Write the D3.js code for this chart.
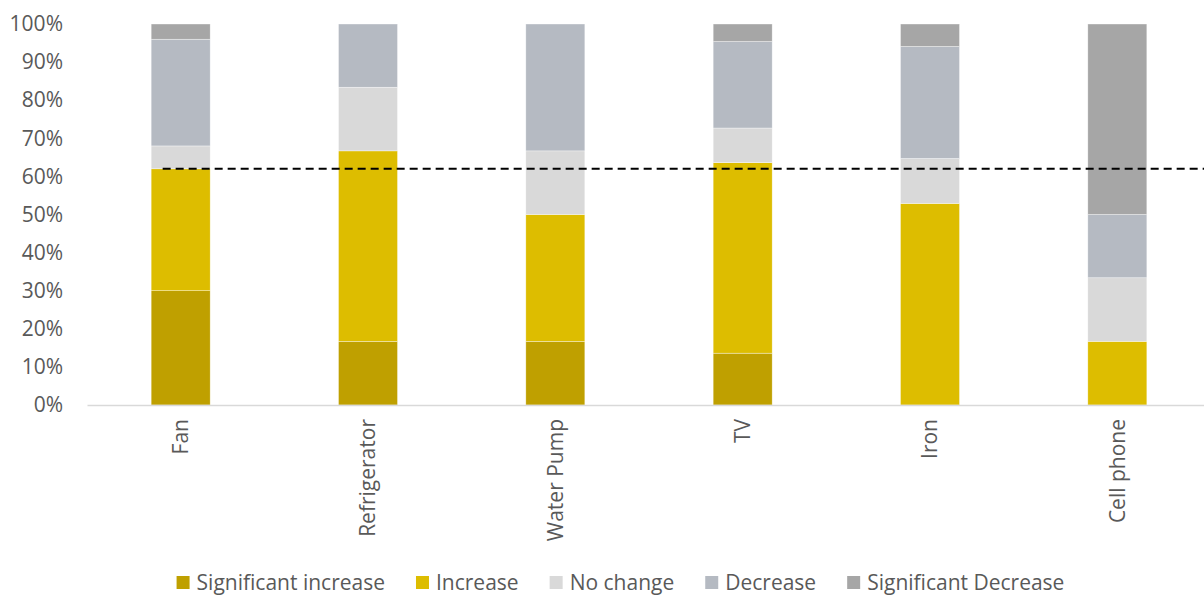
<!DOCTYPE html>
<html>
<head>
<meta charset="utf-8">
<script src="https://cdn.jsdelivr.net/npm/d3@7"></script>
<style>
  html, body { margin: 0; padding: 0; background: #fff; }
  svg { display: block; font-family: "Open Sans", "Noto Sans", sans-serif; }
</style>
</head>
<body>
<svg id="chart" width="1204" height="596"></svg>
<script>
// Appliance usage change, share of respondents (%)
const categories = ["Fan", "Refrigerator", "Water Pump", "TV", "Iron", "Cell phone"];
const seriesNames = ["Significant increase", "Increase", "No change", "Decrease", "Significant Decrease"];
const significantIncrease = [30, 16.7, 16.7, 13.6, 0, 0];
const increase            = [32, 50, 33.3, 50, 52.9, 16.7];
const noChange            = [6, 16.7, 16.7, 9.1, 11.8, 16.7];
const decrease            = [28, 16.6, 33.3, 22.7, 29.4, 16.6];
const significantDecrease = [4, 0, 0, 4.6, 5.9, 50];
const referenceLevel = 62;
const yTicks = [0, 10, 20, 30, 40, 50, 60, 70, 80, 90, 100];
const colors = ["#BFA000", "#DDBD00", "#D9D9D9", "#B5BAC2", "#A6A6A6"];

const seriesValues = [significantIncrease, increase, noChange, decrease, significantDecrease];
const rows = categories.map((c, i) => {
  const r = { category: c };
  seriesNames.forEach((s, k) => { r[s] = seriesValues[k][i]; });
  return r;
});
const stacked = d3.stack().keys(seriesNames)(rows);

const svg = d3.select("#chart");
const margin = { left: 87, right: -7, top: 24, bottom: 191 };
const W = 1204, H = 596;
const fontSize = "21px";
const x = d3.scaleBand().domain(categories)
  .range([margin.left, W - margin.right]).paddingInner(0.685).paddingOuter(0.3425);
const y = d3.scaleLinear().domain([0, 100]).range([H - margin.bottom, margin.top]);

// stacked bars
svg.append("g").selectAll("g").data(stacked).join("g")
  .attr("fill", (d, i) => colors[i])
  .selectAll("rect").data(d => d).join("rect")
  .attr("x", d => x(d.data.category))
  .attr("width", x.bandwidth())
  .attr("y", d => y(d[1]))
  .attr("height", d => y(d[0]) - y(d[1]))
  .attr("stroke", "#ffffff").attr("stroke-width", 0.6).attr("stroke-opacity", 0.6);

// y axis labels
const yAxis = svg.append("g")
  .attr("transform", `translate(${margin.left - 24},0)`)
  .call(d3.axisLeft(y).tickValues(yTicks).tickFormat(d => d + "%").tickSize(0).tickPadding(0));
yAxis.select(".domain").remove();
yAxis.selectAll("text").attr("fill", "#595959").style("font-size", fontSize)
  .style("font-family", "'Open Sans', sans-serif");

// category axis
const xAxis = svg.append("g")
  .attr("transform", `translate(0,${y(0)})`)
  .call(d3.axisBottom(x).tickSize(0).tickPadding(0));
xAxis.select(".domain").attr("stroke", "#D9D9D9").attr("stroke-width", 1.5);
xAxis.selectAll("text")
  .attr("fill", "#595959").style("font-size", fontSize)
  .style("font-family", "'Open Sans', sans-serif")
  .attr("text-anchor", "end")
  .attr("transform", "rotate(-90)")
  .attr("x", -14).attr("y", 0).attr("dy", "0.35em");

// reference line
svg.append("line")
  .attr("x1", x(categories[0]) + x.bandwidth() / 2 - 18)
  .attr("x2", W)
  .attr("y1", y(referenceLevel)).attr("y2", y(referenceLevel))
  .attr("stroke", "#000").attr("stroke-width", 2)
  .attr("stroke-dasharray", "8,5");

// legend
const legend = svg.append("g").attr("transform", "translate(0,583)");
const items = legend.selectAll("g").data(seriesNames).join("g");
items.append("rect").attr("width", 13).attr("height", 13).attr("y", -7)
  .attr("fill", (d, i) => colors[i]);
items.append("text").attr("x", 20).attr("dy", "0.35em")
  .attr("fill", "#595959").style("font-size", fontSize)
  .text(d => d);
let widths = [];
items.each(function () { widths.push(20 + d3.select(this).select("text").node().getComputedTextLength()); });
const gap = 31;
const total = d3.sum(widths) + gap * (widths.length - 1);
let cx = 620.5 - total / 2;
items.attr("transform", (d, i) => {
  const t = `translate(${cx},0)`;
  cx += widths[i] + gap;
  return t;
});
</script>
</body>
</html>
